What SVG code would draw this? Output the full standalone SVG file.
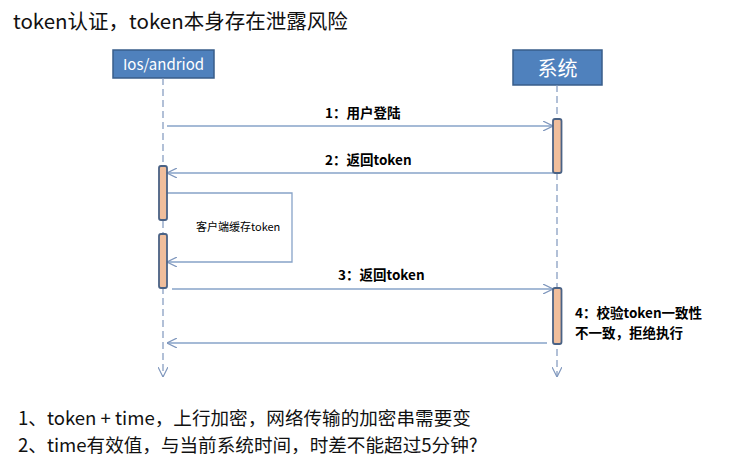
<svg xmlns="http://www.w3.org/2000/svg" width="738" height="462" viewBox="0 0 738 462">
<style>
.cjk{font-family:"Noto Sans CJK SC","Noto Sans",sans-serif}
.hdr{fill:#4F81BD;stroke:#385D8A;stroke-width:1.5}
.hdrt{fill:#fff;text-anchor:middle}
.life{stroke:#7F97BD;stroke-width:1.2;stroke-dasharray:7 4;fill:none}
.msg{stroke:#87A3C8;stroke-width:1.3;fill:none}
.act{fill:#F0BE9C;stroke:#4A6285;stroke-width:1.8}
.lbl{font-weight:bold;font-size:13.5px;fill:#000}
.big{font-size:18.6px;fill:#111}
</style>
<defs>
<marker id="oa" viewBox="0 0 10 10" refX="10" refY="5" markerWidth="10" markerHeight="10" markerUnits="userSpaceOnUse" orient="auto">
<path d="M0,0 L10,5 L0,10" fill="none" stroke="#7F97BD" stroke-width="1.2"/>
</marker>
</defs>
<rect width="738" height="462" fill="#fff"/>
<text class="cjk" x="13" y="29" font-size="20.5" fill="#111">token认证，token本身存在泄露风险</text>
<g id="client">
<rect class="hdr" x="113" y="50" width="101" height="28"/>
<text class="cjk hdrt" x="163.5" y="70" font-size="15">Ios/andriod</text>
</g>
<g id="system">
<rect class="hdr" x="513" y="50" width="89" height="35"/>
<text class="cjk hdrt" x="557.5" y="76" font-size="20">系统</text>
</g>
<g id="connectors">
<line class="life" x1="163" y1="78" x2="163" y2="377" marker-end="url(#oa)"/>
<line class="life" x1="557" y1="85" x2="557" y2="377" marker-end="url(#oa)"/>
<line class="msg" x1="167" y1="126" x2="553" y2="126" marker-end="url(#oa)"/>
<line class="msg" x1="553" y1="173" x2="167" y2="173" marker-end="url(#oa)"/>
<polyline class="msg" points="167,193 292,193 292,262 167,262" marker-end="url(#oa)"/>
<line class="msg" x1="172" y1="289" x2="553" y2="289" marker-end="url(#oa)"/>
<line class="msg" x1="547" y1="343" x2="167" y2="343" marker-end="url(#oa)"/>
</g>
<g id="activations">
<rect class="act" x="159" y="166" width="8" height="54" rx="2"/>
<rect class="act" x="159" y="234" width="8" height="54" rx="2"/>
<rect class="act" x="553" y="119" width="8.5" height="54" rx="2"/>
<rect class="act" x="553" y="288" width="8.5" height="56" rx="2"/>
</g>
<g id="labels">
<text class="cjk lbl" x="325" y="118">1：用户登陆</text>
<text class="cjk lbl" x="325" y="165">2：返回token</text>
<text class="cjk" x="196" y="231" font-size="11">客户端缓存token</text>
<text class="cjk lbl" x="338" y="280">3：返回token</text>
<text class="cjk lbl" x="575" y="318">4：校验token一致性</text>
<text class="cjk lbl" x="575" y="338">不一致，拒绝执行</text>
</g>
<text class="cjk big" x="18" y="425">1、token + time，上行加密，网络传输的加密串需要变</text>
<text class="cjk big" x="18" y="452">2、time有效值，与当前系统时间，时差不能超过5分钟?</text>
</svg>
